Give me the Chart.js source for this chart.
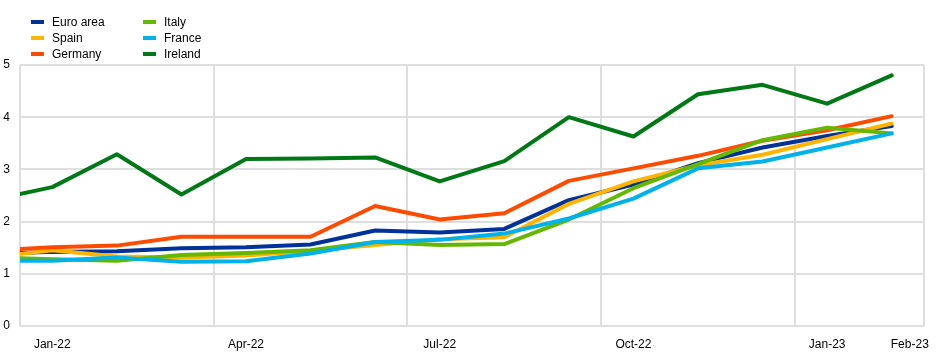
<!DOCTYPE html>
<html><head><meta charset="utf-8">
<script src="https://cdn.jsdelivr.net/npm/chart.js@4"></script>
<style>
html,body{margin:0;padding:0;background:#fff;}
#wrap{position:relative;width:945px;height:356px;overflow:hidden;}
canvas{position:absolute;left:0;top:0;}
.leg{position:absolute;font:12px "Liberation Sans",Arial,sans-serif;color:#000;line-height:14px;white-space:nowrap;}
.sw{position:absolute;width:13px;height:4px;}
</style></head><body>
<div id="wrap"><canvas id="c" width="945" height="356"></canvas><div id="legend"></div></div>
<script>
// ---- data ----
const categories = ['Dec-21','Jan-22','Feb-22','Mar-22','Apr-22','May-22','Jun-22','Jul-22','Aug-22','Sep-22','Oct-22','Nov-22','Dec-22','Jan-23','Feb-23'];
const euroArea = [1.38,1.42,1.43,1.49,1.51,1.56,1.83,1.79,1.86,2.41,2.71,3.12,3.42,3.64,3.83];
const spain    = [1.31,1.45,1.33,1.31,1.35,1.44,1.55,1.66,1.70,2.34,2.77,3.08,3.28,3.58,3.88];
const germany  = [1.44,1.51,1.54,1.71,1.71,1.71,2.30,2.04,2.16,2.78,3.02,3.26,3.55,3.75,4.02];
const italy    = [1.32,1.28,1.25,1.36,1.40,1.45,1.61,1.55,1.57,2.04,2.64,3.10,3.56,3.80,3.69];
const france   = [1.25,1.25,1.31,1.23,1.24,1.39,1.61,1.65,1.77,2.06,2.44,3.02,3.15,3.42,3.69];
const ireland  = [2.40,2.66,3.29,2.52,3.20,3.21,3.23,2.77,3.16,4.00,3.63,4.44,4.62,4.26,4.80];
const seriesNames = ['Euro area','Spain','Germany','Italy','France','Ireland'];
const tickLabels = ['Jan-22','Apr-22','Jul-22','Oct-22','Jan-23','Feb-23'];
const yTicks = [0,1,2,3,4,5];

// ---- style ----
const colors = ['#003299','#FFB400','#FF4B00','#65B800','#00B1EA','#007816'];
const gridColor = '#dedede';
const lastLabelShift = 0.28;
const FONT = '"Liberation Sans", Arial, sans-serif';

const seriesValues = [euroArea, spain, germany, italy, france, ireland];

// label positions (category index) and grid positions (quarter boundaries)
const labelAt = new Map();
const gridAt = new Set();
tickLabels.forEach((lab, i) => {
  let idx = categories.indexOf(lab);
  if (i === tickLabels.length - 1) { gridAt.add(idx + 0.5); labelAt.set(idx + lastLabelShift, lab); }
  else { gridAt.add(idx - 0.5); labelAt.set(idx, lab); }
});
const tickValues = [...gridAt, ...labelAt.keys()].sort((a,b)=>a-b);

const datasets = seriesValues.map((vals, i) => ({
  label: seriesNames[i],
  data: vals.map((v, j) => ({x: j, y: v})),
  borderColor: colors[i],
  backgroundColor: colors[i],
  borderWidth: 4,
  pointRadius: 0,
  tension: 0,
  borderCapStyle: 'round',
  borderJoinStyle: 'round',
  clip: 0,
  order: seriesNames.length - i
}));

new Chart(document.getElementById('c'), {
  type: 'line',
  data: { datasets },
  options: {
    responsive: false,
    animation: false,
    events: [],
    layout: { padding: { top: 65, right: 21, left: 0, bottom: 0 } },
    plugins: { legend: { display: false }, tooltip: { enabled: false } },
    scales: {
      x: {
        type: 'linear',
        min: 0.5, max: categories.length - 0.5,
        afterBuildTicks: ax => { ax.ticks = tickValues.map(v => ({value: v})); },
        afterFit: ax => { ax.height = 30; },
        border: { display: false },
        grid: {
          drawTicks: false,
          lineWidth: 2,
          color: c => (c.tick && gridAt.has(c.tick.value)) ? gridColor : 'rgba(0,0,0,0)'
        },
        ticks: {
          autoSkip: false, maxRotation: 0, padding: 11,
          color: '#000', font: { family: FONT, size: 12 },
          callback: v => labelAt.get(v) || ''
        }
      },
      y: {
        min: 0, max: 5,
        afterBuildTicks: ax => { ax.ticks = yTicks.map(v => ({value: v})); },
        afterFit: ax => { ax.width = 20; },
        border: { display: false },
        grid: { drawTicks: false, lineWidth: 2, color: gridColor },
        ticks: { padding: 10, color: '#000', font: { family: FONT, size: 12 } }
      }
    }
  }
});

// ---- legend (HTML, two columns) ----
const leg = document.getElementById('legend');
const colX = [31, 143];
const rowY = [22, 38, 54];
seriesNames.forEach((name, i) => {
  const col = Math.floor(i / 3), row = i % 3;
  const sw = document.createElement('div');
  sw.className = 'sw';
  sw.style.left = colX[col] + 'px';
  sw.style.top = (rowY[row] - 2) + 'px';
  sw.style.background = colors[i];
  leg.appendChild(sw);
  const t = document.createElement('div');
  t.className = 'leg';
  t.style.left = (colX[col] + 21) + 'px';
  t.style.top = (rowY[row] - 7) + 'px';
  t.textContent = name;
  leg.appendChild(t);
});
</script>
</body></html>
